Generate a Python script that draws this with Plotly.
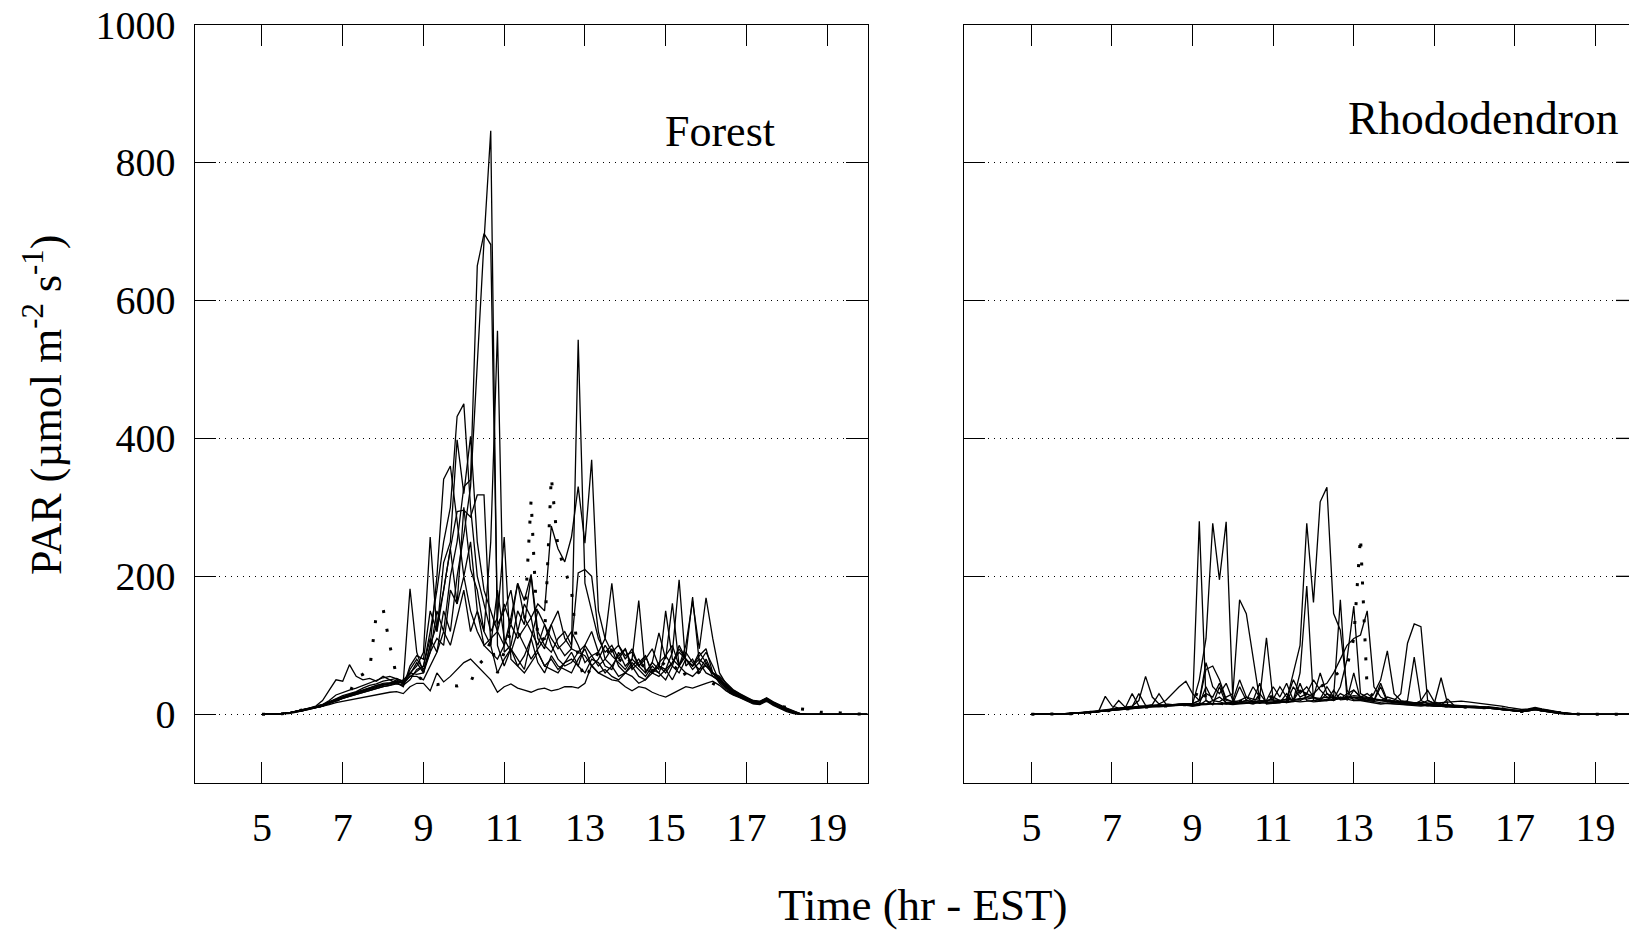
import plotly.graph_objects as go

# ---------------- data ----------------
# time grid: 10-minute readings from 05:00 to 20:00 EST
hours = [round(5 + k / 6, 4) for k in range(91)]

x_ticks = [5, 7, 9, 11, 13, 15, 17, 19]
y_ticks = [0, 200, 400, 600, 800, 1000]

Z10 = [0, 0, 0, 0, 0, 0, 0, 0, 0, 0]

# Forest sensors (PAR, umol m-2 s-1)
forest_1 = ([0,0,0,1,2,4,6,8,10,14,18,22,26,29,32,35,38,42,45,46,48,44,55,62]
            + [70,110,90,150,120,200,260,330,510,686,846]
            + [100,70,95,80,65,110,75,60,85,70,65,60,80,95,70,60,65,55,50,60,55,45,50,60,55,65,50,70,60,55,65,70,60]
            + [52,42,34,28,23,19,18,23,17,12,8,4,1] + Z10)
forest_2 = ([0,0,0,1,2,3,5,8,11,13,17,21,25,28,31,34,37,41,43,44,47,46,60,58]
            + [60,90,150,120,200,250,330,340,650,697,681]
            + [130,150,180,120,160,140,90,70,80,65,75,90,70,60,80,75,60,70,55,60,70,55,50,65,60,50,70,60,80,65,75,60,55]
            + [48,38,30,26,21,17,16,21,15,10,6,2,0] + Z10)
forest_3 = ([0,0,0,1,2,4,6,9,12,20,35,50,48,72,55,50,52,48,55,50,45,50,60,70]
            + [90,257,120,180,240,160,300,210,180,120,250,556,90,100,150,130,200,110,95,130,150,110,95,90]
            + [100,85,70,80,95,70,60,75,65,55,70,60,85,100,70,90,75,65,80,60]
            + [55,45,36,30,25,20,19,24,18,13,9,5,1] + Z10)
forest_4 = ([0,0,0,1,2,4,6,8,10,13,18,23,27,30,33,38,42,44,48,50,52,47,182,90]
            + [60,100,200,341,360,280,200,250,150,120,100,180,110,90,120,100,80,95,110,130,100,85,95,543,190,150,110,90,100,80,95,70,80,65,60,75,85,70,100,80,70,90,75,60]
            + [45,36,29,25,20,16,15,20,14,9,5,2,0] + Z10)
forest_5 = ([0,0,0,1,2,4,6,8,10,12,16,20,24,27,30,33,36,40,42,44,45,42,50,65]
            + [70,120,180,250,300,432,450,300,200,160,120,140,257]
            + [80,70,60,75,90,70,65,60,75,80,70]
            + [100,120,90,110,190,100,80,95,70,85,60,70,65,90,195,70,80,60,75,55]
            + [50,41,33,28,23,19,18,22,16,11,7,3,0] + Z10)
forest_6 = ([0,0,0,1,2,3,5,7,9,12,16,20,23,26,29,32,35,38,40,42,46,40,70,85]
            + [80,150,120,220,250,398,320,403,250,180,150,120,160,130,190,140,120,100,130,110,95,105,120,100]
            + [75,85,90,70,65,90,70,80,165,60,75,118,80,161,70,100,164,95,169,110]
            + [60,44,35,29,24,20,18,23,17,12,8,4,1] + Z10)
forest_7 = ([0,0,0,1,2,4,6,8,11,14,20,28,32,35,38,42,46,50,53,55,52,48,58,75]
            + [60,100,130,180,240,294,296,286,318,318]
            + [100,60,80,95,70,85,110,150,130,100,80,70,75,90,85,70,80,100,85,75,65,80,70,60,75,65,150,80,70,85,170,75,90,70]
            + [47,39,31,26,21,17,16,21,15,10,6,2,0] + Z10)
forest_8 = ([0,0,0,1,2,4,6,8,10,13,18,22,25,28,31,34,38,42,44,45,50,45,55,55]
            + [50,70,90,120,100,140,180,120,150,100,90,80,100,130,110,125,140,160,150,273,240,221,257,330,248,369,150,110,90,100,85,90,70,80,95,70,60,75,90,80,70,85,95,60]
            + [53,42,33,27,22,18,17,22,16,11,7,3,0] + Z10)
forest_9 = ([0,0,0,1,2,4,5,7,10,12,16,20,23,26,29,32,35,38,40,42,44,42,65,80]
            + [65,90,110,100,180,160,200,150,120,100,110,120,100,140,190,165,203]
            + [120,100,90,110,120,100,205,210,200,120,80,70,85,95,65,75,85,60,70,65,75,95,80,70,80,70,60]
            + [49,40,32,27,22,18,17,22,16,11,7,3,0] + Z10)
forest_10 = ([0,0,0,1,1,3,5,7,9,11,14,17,19,21,23,25,27,29,31,32,33,30,40,45]
             + [45,34,60,47,55,65,75,80,70,60,50,32,40,44,38,35,32,36,38,34,36,40,40,38,45,71,60,55,50,48,40,34,40,38,32,28,25,30,35,40,38,42,45,48]
             + [42,34,28,24,19,15,14,19,13,8,4,1,0] + Z10)
forest_dotted = ([0,0,0,1,2,4,6,8,10,13,16,20,24,30,54,58,65,145,153,100,55,45,50,55]
                 + [50,45,43,45,42,41,44,46,70,80,107,60,90,120,110,130,311,105,110,345,240,210,180,80,50,70,90,100,80,75,90,70,65,75,60,80,70,60,75,55,65,60,50,45]
                 + [40,35,30,28,22,20,18,20,15,12,10,12,8,7,5,3,3,3,2,1,1,1,0])

# Rhododendron sensors
rhodo_1 = ([0,0,0,0,1,1,1,2,2,3,4,5,7,8,9,10,10,11,12,12,13,13,14,14]
           + [14,280,20,15,16,15,18,16,17,15,18,16,17,18,20,60,100,277,162,308,329,146,122,35,20,22,20,18,17,16,15,15,14,14,13,13,12,12,12,11,11,11,10,10]
           + [10,9,8,6,5,4,6,8,6,4,3,2,1] + Z10)
rhodo_2 = ([0,0,0,0,1,1,2,2,3,3,5,6,7,8,9,10,11,11,12,13,13,14,14,15]
           + [15,50,110,277,195,279,20,17,18,16,30,17,18,20,17,18,20,25,25,20,22,20,25,22,20,20,18,16,15,16,15,14,14,13,12,13,12,11,11,10,11,10,10,9]
           + [11,10,9,7,6,5,7,9,7,5,3,2,1] + Z10)
rhodo_3 = ([0,0,0,0,1,1,1,2,2,3,4,5,6,7,8,9,10,10,11,12,12,13,13,14]
           + [14,16,15,20,18,25,30,166,146,80,20,18,16,17,18,20,22,25,30,40,45,60,80,100,110,115,150,40,25,20,18,16,15,14,14,13,12,12,11,11,10,10,10,9]
           + [9,8,7,6,5,4,5,7,5,3,2,1,0] + Z10)
rhodo_4 = ([0,0,0,0,1,1,1,2,3,4,5,6,8,9,10,11,30,13,13,14,13,14,15,15]
           + [13,15,40,20,25,17,16,40,20,18,17,20,40,25,45,20,60,186,20,22,40,25,166,20,35,25,22,20,45,20,18,16,20,83,20,16,14,13,12,12,11,11,10,10]
           + [10,9,8,6,5,4,6,8,6,4,3,2,1] + Z10)
rhodo_5 = ([0,0,0,0,1,1,1,2,2,3,4,5,7,8,9,10,10,11,12,12,13,13,14,15]
           + [15,20,65,70,50,22,18,20,25,18,17,20,22,40,25,20,35,30,25,60,30,22,40,80,157,30,25,22,20,18,20,30,103,131,127,20,16,14,13,12,12,11,10,10]
           + [9,8,7,6,5,4,5,7,5,3,2,1,0] + Z10)
rhodo_6 = ([0,0,0,0,1,1,2,2,3,3,4,6,7,8,9,10,11,12,12,13,13,14,14,14]
           + [12,14,15,16,15,17,16,18,20,40,25,111,20,18,17,40,25,30,50,35,25,20,30,25,22,24,20,30,50,92,30,20,18,16,15,20,16,53,14,12,12,11,11,10]
           + [10,9,8,6,5,4,6,8,6,4,3,2,1] + Z10)
rhodo_7 = ([0,0,0,0,1,1,1,2,2,3,4,5,7,8,10,12,20,55,25,15,20,30,40,48]
           + [30,20,75,40,30,45,20,50,25,22,20,18,25,20,22,50,30,40,25,20,30,25,22,30,35,25,30,22,20,25,22,18,16,15,20,35,18,15,14,13,13,12,12,11]
           + [11,10,9,7,6,5,7,9,7,5,3,2,1] + Z10)
rhodo_8 = ([0,0,0,0,1,1,1,2,2,3,4,26,12,9,10,30,12,12,14,30,15,14,15,16]
           + [16,20,30,25,45,20,18,17,20,18,19,20,21,20,22,21,23,22,24,23,25,24,23,25,27,26,24,22,21,20,19,18,18,17,17,16,16,17,18,18,19,18,17,16]
           + [15,13,12,10,8,7,8,10,8,6,4,3,1] + Z10)
rhodo_9 = ([0,0,0,0,1,1,1,2,2,3,4,5,6,7,8,9,10,10,11,11,12,12,13,13]
           + [13,14,14,15,15,16,16,15,16,17,16,17,18,17,18,19,18,19,20,21,20,21,22,23,25,24,22,21,20,19,18,17,16,16,15,14,14,13,13,12,12,12,11,11]
           + [10,9,8,6,5,4,6,8,6,4,3,2,1] + Z10)
rhodo_10 = ([0,0,0,0,1,1,1,2,2,3,4,5,8,20,10,11,11,12,13,13,14,14,14,13]
            + [12,13,20,14,40,15,14,15,16,20,45,15,16,17,30,18,45,20,18,19,20,35,21,22,60,21,20,19,40,18,17,16,15,15,14,14,13,13,22,12,11,11,10,10]
            + [9,8,7,6,5,4,5,7,5,3,2,1,0] + Z10)
rhodo_dotted = ([0,0,0,0,1,1,1,2,2,3,4,5,6,7,8,9,10,11,11,12,12,13,13,14]
                + [14,40,25,18,16,15,17,19,18,20,25,35,20,18,20,22,25,30,35,40,45,55,62,70,110,258,35,25,22,20,18,17,16,15,14,14,13,12,12,11,11,10,10,10]
                + [10,9,8,6,5,4,6,8,6,4,3,2,1] + Z10)

forest_lines = [forest_1, forest_2, forest_3, forest_4, forest_5,
                forest_6, forest_7, forest_8, forest_9, forest_10]
rhodo_lines = [rhodo_1, rhodo_2, rhodo_3, rhodo_4, rhodo_5,
               rhodo_6, rhodo_7, rhodo_8, rhodo_9, rhodo_10]

# ---------------- figure ----------------
W, H = 1629, 932
FONT = "Liberation Serif, Times New Roman, serif"

fig = go.Figure()

solid = dict(color="black", width=1.3)
dotted = dict(color="black", width=3, dash="3px,16px")

for s in forest_lines:
    fig.add_trace(go.Scatter(x=hours, y=s, mode="lines", line=solid,
                             xaxis="x", yaxis="y", hoverinfo="skip"))
fig.add_trace(go.Scatter(x=hours, y=forest_dotted, mode="lines", line=dotted,
                         xaxis="x", yaxis="y", hoverinfo="skip"))
for s in rhodo_lines:
    fig.add_trace(go.Scatter(x=hours, y=s, mode="lines", line=solid,
                             xaxis="x2", yaxis="y2", hoverinfo="skip"))
fig.add_trace(go.Scatter(x=hours, y=rhodo_dotted, mode="lines", line=dotted,
                         xaxis="x2", yaxis="y2", hoverinfo="skip"))

ydom = [1 - 783.3 / H, 1 - 24.5 / H]
common = dict(showline=True, linecolor="black", linewidth=1.3,
              ticks="inside", ticklen=21, tickwidth=1.3, tickcolor="black",
              tickfont=dict(family=FONT, size=40, color="black"),
              zeroline=False, automargin=False)

fig.update_layout(
    width=W, height=H,
    margin=dict(l=0, r=0, t=0, b=0),
    paper_bgcolor="white", plot_bgcolor="white",
    showlegend=False,
    xaxis=dict(common, domain=[194.7 / W, 867.5 / W], range=[3.333, 20.0],
               tickvals=x_ticks, mirror="ticks", showgrid=False, anchor="y",
               ticklabelstandoff=9),
    yaxis=dict(common, domain=ydom, range=[-100, 1000], tickvals=y_ticks,
               mirror="ticks", showgrid=True, gridcolor="black", gridwidth=1,
               griddash="1px,5px", anchor="x", ticklabelstandoff=10),
    xaxis2=dict(common, domain=[964.3 / W, 1.0], range=[3.335, 19.83],
                tickvals=x_ticks, mirror="ticks", showgrid=False, anchor="y2",
                ticklabelstandoff=9),
    yaxis2=dict(common, domain=ydom, range=[-100, 1000], tickvals=y_ticks,
                mirror=False, showgrid=True, gridcolor="black", gridwidth=1,
                griddash="1px,5px", anchor="x2", showticklabels=False),
)

# right-hand frame ticks of the second panel (frame itself lies past the window edge)
for v in y_ticks[:-1]:
    fig.add_shape(type="line", xref="x2 domain", yref="y2",
                  x0=1 - 13 / (W - 964.3), x1=1, y0=v, y1=v,
                  line=dict(color="black", width=1.3))

fig.add_annotation(text="Forest", x=719.7 / W, y=1 - 132 / H, xref="paper", yref="paper",
                   xanchor="center", yanchor="middle", showarrow=False,
                   font=dict(family=FONT, size=44, color="black"))
fig.add_annotation(text="Rhododendron", x=1483.5 / W, y=1 - 119 / H, xref="paper", yref="paper",
                   xanchor="center", yanchor="middle", showarrow=False,
                   font=dict(family=FONT, size=45.5, color="black"))
fig.add_annotation(text="Time (hr - EST)", x=922.5 / W, y=0, xref="paper", yref="paper",
                   xanchor="center", yanchor="bottom", showarrow=False,
                   font=dict(family=FONT, size=45, color="black"))
fig.add_annotation(text="PAR (µmol m<sup>-2</sup> s<sup>-1</sup>)", x=44 / W, y=1 - 405 / H,
                   xref="paper", yref="paper", textangle=-90,
                   xanchor="center", yanchor="middle", showarrow=False,
                   font=dict(family=FONT, size=44, color="black"))

fig.write_html("out.html")
